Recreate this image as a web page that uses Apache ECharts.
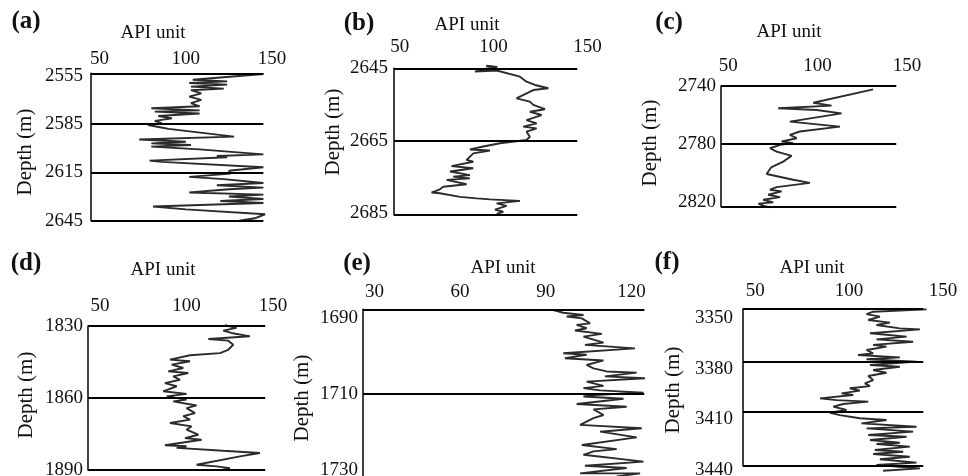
<!DOCTYPE html>
<html>
<head>
<meta charset="utf-8">
<script src="https://cdn.jsdelivr.net/npm/echarts@6/dist/echarts.min.js"></script>
<style>
  html, body { margin: 0; padding: 0; background: #fff; }
  #chart { width: 968px; height: 476px; }
</style>
</head>
<body>
<div id="chart"></div>
<script>
// Gamma-ray logs (API unit) against depth (m) for six wells, (a)–(f).

// (a)
const depthA = [2553.9, 2557.5, 2558.5, 2559.5, 2560.5, 2561.8, 2563, 2564, 2566, 2568, 2570, 2572, 2574, 2575.2, 2576.5, 2577.3, 2578.5, 2580, 2581.5, 2583, 2584.5, 2585.6, 2587, 2588, 2592.8, 2594.6, 2596, 2597, 2598, 2599, 2600.7, 2603.8, 2604.8, 2605.6, 2607.7, 2608.5, 2611.8, 2614, 2615.8, 2617.8, 2619.2, 2621.6, 2623, 2624.5, 2625.5, 2627.5, 2628.8, 2630, 2631.5, 2632.8, 2634, 2636.2, 2638, 2641, 2643.5, 2645];
const gammaA = [145, 104, 124, 102, 124, 103, 122, 103, 109, 102, 109, 103, 108, 80, 108, 82, 108, 84, 92, 82, 86, 78, 85, 90, 128, 73, 100, 80, 103, 80, 108, 145, 118, 124, 79, 86, 145, 125, 126, 102, 122, 145, 118, 145, 125, 102, 145, 125, 145, 120, 145, 81, 100, 146, 140, 131];
const zonesA = [2553.5, 2585, 2615, 2645];
const depthTicksA = [2555, 2585, 2615, 2645];

// (b)
const depthB = [2644.3, 2644.6, 2645.2, 2645.9, 2645.6, 2647.3, 2648.7, 2649.6, 2650.5, 2651.0, 2652.8, 2653.3, 2654.2, 2655.1, 2656.3, 2657.0, 2657.9, 2659.3, 2660.2, 2661.1, 2661.6, 2662.5, 2663.9, 2664.8, 2665.7, 2666.6, 2667.4, 2667.7, 2668.5, 2670.3, 2670.8, 2672.0, 2672.6, 2673.5, 2674.5, 2674.9, 2675.4, 2675.8, 2677.0, 2677.7, 2678.4, 2679.3, 2679.5, 2680.5, 2680.9, 2681.2, 2681.6, 2682.3, 2683.0, 2684.0, 2684.6, 2685.2];
const gammaB = [96, 102, 95, 90.1, 101.6, 114.0, 117.5, 122.0, 129.1, 121.1, 114.0, 112.2, 119.3, 121.1, 127.3, 119.3, 125.5, 117.5, 122.9, 115.8, 122.9, 117.5, 119.3, 117.5, 103.4, 94.5, 87.4, 98.0, 89.2, 85.6, 89.2, 77.6, 89.2, 76.8, 87.4, 78.5, 87.4, 75.0, 85.6, 73.2, 71.4, 67.0, 71.4, 82.1, 91.0, 98.0, 114.0, 101.6, 106.9, 100.7, 105.1, 101.6];
const zonesB = [2645, 2665, 2685.5];
const depthTicksB = [2645, 2665, 2685];

// (c)
const depthC = [2742.3, 2751.5, 2753.5, 2755.3, 2756.5, 2758.8, 2764.5, 2767.9, 2771.3, 2773.6, 2775.9, 2778.2, 2779.3, 2780.5, 2782.8, 2785.1, 2788.0, 2792.0, 2796.0, 2800.5, 2804.5, 2806.6, 2809.5, 2811.3, 2812.5, 2814.8, 2816.4, 2818.2, 2820.0, 2820.9, 2822.3, 2823.5];
const gammaC = [131.1, 97.6, 107.8, 78.0, 99.4, 113.4, 84.5, 112.5, 90.1, 84.5, 88.3, 79.9, 86.4, 79.0, 73.4, 77.1, 85.5, 80.8, 74.0, 71.5, 86.4, 95.7, 77.1, 73.4, 79.9, 72.4, 79.0, 69.6, 75.2, 66.9, 69.6, 73.4];
const zonesC = [2740, 2780, 2823];
const depthTicksC = [2740, 2780, 2820];

// (d)
const depthD = [1829.7, 1830.8, 1831.9, 1832.9, 1834.3, 1835.4, 1836.1, 1837.8, 1839.9, 1841.3, 1842.2, 1844.0, 1844.7, 1846.1, 1847.5, 1848.9, 1849.6, 1851.0, 1852.4, 1853.8, 1855.1, 1857.2, 1858.3, 1859.3, 1860.7, 1861.4, 1863.1, 1864.2, 1866.3, 1867.6, 1869.0, 1870.4, 1871.8, 1873.2, 1875.3, 1876.7, 1877.4, 1879.7, 1880.1, 1880.8, 1882.0, 1882.9, 1884.3, 1887.8, 1888.5, 1889.2, 1889.9];
const gammaD = [122.2, 128.9, 121.2, 126.0, 136.6, 112.6, 124.1, 127.0, 124.1, 119.3, 102.0, 90.4, 102.0, 91.4, 98.1, 89.4, 101.0, 92.3, 96.2, 87.5, 94.3, 86.5, 100.0, 88.5, 100.0, 92.3, 105.8, 100.0, 104.9, 98.1, 102.0, 90.4, 102.9, 100.0, 106.8, 99.1, 108.7, 87.5, 100.0, 94.3, 121.2, 142.4, 130.9, 105.8, 117.4, 125.1, 121.2];
const zonesD = [1830, 1860, 1890];
const depthTicksD = [1830, 1860, 1890];

// (e)
const depthE = [1687.8, 1688.5, 1689.1, 1689.5, 1690.0, 1691.3, 1691.7, 1692.6, 1693.2, 1694.1, 1694.8, 1696.4, 1697.0, 1697.9, 1699.2, 1699.6, 1700.5, 1701.1, 1702.3, 1703.2, 1704.0, 1704.3, 1705.3, 1705.8, 1706.7, 1707.8, 1708.4, 1709.0, 1709.6, 1710.2, 1710.6, 1711.2, 1712.6, 1713.3, 1714.0, 1715.5, 1716.3, 1718.1, 1719.0, 1719.9, 1721.4, 1723.4, 1724.5, 1725.1, 1726.0, 1727.8, 1728.9, 1729.5, 1730.9, 1730.9, 1731.7];
const gammaE = [92.6, 96.1, 103.2, 97.3, 102.6, 105.5, 100.8, 104.3, 100.2, 109.6, 103.2, 110.2, 103.7, 121.2, 96.1, 104.3, 96.7, 110.2, 104.3, 106.7, 111.3, 121.8, 110.7, 124.7, 104.3, 110.2, 103.2, 109.0, 124.2, 106.7, 103.2, 117.2, 100.8, 118.3, 106.7, 110.2, 106.7, 102.0, 123.6, 109.0, 121.8, 102.6, 114.8, 106.7, 103.2, 124.2, 103.7, 118.3, 102.0, 123.0, 114.8];
const zonesE = [1687.6, 1710];
const depthTicksE = [1690, 1710, 1730];

// (f)
const depthF = [3349.0, 3350.4, 3351.8, 3353.3, 3355.3, 3356.9, 3358.3, 3360.3, 3360.9, 3363.2, 3365.2, 3366.8, 3368.2, 3370.1, 3371.1, 3373.1, 3375.1, 3376.1, 3377.5, 3378.6, 3380.0, 3382.0, 3383.0, 3385.0, 3386.6, 3388.5, 3390.9, 3392.9, 3394.5, 3395.8, 3397.2, 3398.8, 3399.8, 3401.8, 3402.8, 3403.7, 3405.1, 3406.7, 3408.7, 3410.3, 3411.7, 3413.6, 3414.6, 3416.6, 3418.6, 3419.6, 3421.5, 3423.5, 3424.5, 3426.5, 3428.1, 3428.8, 3430.4, 3432.4, 3433.4, 3434.8, 3436.4, 3437.9, 3439.9, 3441.3, 3443.3, 3444.7];
const gammaF = [141.2, 112.8, 109.3, 116.4, 110.2, 121.7, 114.6, 127.0, 137.7, 111.1, 130.6, 114.6, 134.1, 112.8, 119.9, 109.3, 112.8, 104.8, 127.0, 109.3, 135.9, 111.1, 127.0, 112.8, 119.9, 110.2, 112.8, 108.4, 111.1, 100.4, 105.7, 96.0, 102.2, 84.5, 93.3, 110.2, 96.9, 91.6, 98.6, 89.8, 95.1, 105.7, 119.9, 106.6, 135.9, 109.3, 134.1, 110.2, 130.6, 111.1, 127.0, 114.6, 132.3, 113.7, 128.8, 112.8, 132.3, 116.4, 135.9, 114.6, 137.7, 118.1];
const zonesF = [3348.8, 3380, 3410, 3441.7];
const depthTicksF = [3350, 3380, 3410, 3440];

// API scale labels
const apiTicks = [50, 100, 150];
const apiTicksE = [30, 60, 90, 120];

const panels = [
  { tag: '(a)', depth: depthA, gamma: gammaA, zones: zonesA, dTicks: depthTicksA, aTicks: apiTicks,
    grid: { left: 91, top: 73.3, width: 181, height: 147.4 }, x: [45, 150], y: [2553.5, 2645], lineEnd: 145,
    xMargin: 5, yMargin: 8, yAlign: 'middle', tagPos: [26, 22], unitPos: [153, 33], depthPos: [25, 152] },
  { tag: '(b)', depth: depthB, gamma: gammaB, zones: zonesB, dTicks: depthTicksB, aTicks: apiTicks,
    grid: { left: 394, top: 68.3, width: 193.6, height: 146.7 }, x: [47, 150], y: [2645, 2685.5], lineEnd: 144.5,
    xMargin: 12, yMargin: 6, yAlign: 'middle', tagPos: [359, 24], unitPos: [467, 25], depthPos: [333, 132] },
  { tag: '(c)', depth: depthC, gamma: gammaC, zones: zonesC, dTicks: depthTicksC, aTicks: apiTicks,
    grid: { left: 721, top: 86, width: 186, height: 120.7 }, x: [46, 150], y: [2740, 2823], lineEnd: 144,
    xMargin: 10, yMargin: 5, yAlign: 'middle', tagPos: [669, 23], unitPos: [789, 32], depthPos: [650, 143] },
  { tag: '(d)', depth: depthD, gamma: gammaD, zones: zonesD, dTicks: depthTicksD, aTicks: apiTicks,
    grid: { left: 88, top: 326, width: 185, height: 144 }, x: [43, 150], y: [1830, 1890], lineEnd: 145.5,
    xMargin: 10, yMargin: 5, yAlign: 'middle', tagPos: [26, 264], unitPos: [163, 270], depthPos: [26, 395] },
  { tag: '(e)', depth: depthE, gamma: gammaE, zones: zonesE, dTicks: depthTicksE, aTicks: apiTicksE,
    grid: { left: 363, top: 309.3, width: 288.5, height: 179.6 }, x: [26, 127], y: [1687.6, 1735], lineEnd: 124.5,
    xMargin: 8, yMargin: 5, yAlign: 'middle', tagPos: [357, 264], unitPos: [503, 268], depthPos: [302, 398] },
  { tag: '(f)', depth: depthF, gamma: gammaF, zones: zonesF, dTicks: depthTicksF, aTicks: apiTicks,
    grid: { left: 743, top: 309, width: 200, height: 156.7 }, x: [43.5, 150], y: [3348.8, 3441.7], lineEnd: 139.5,
    xMargin: 8, yMargin: 10, yAlign: 'top', tagPos: [667, 263], unitPos: [812, 268], depthPos: [673, 390] }
];

const FONT = '"Liberation Serif", "Times New Roman", serif';
const INK = '#111';

const option = {
  backgroundColor: '#fff',
  animation: false,
  // fixed plot boxes: labels may run to the canvas edge, the (e) track runs past it
  grid: panels.map(p => Object.assign({ containLabel: false, outerBoundsMode: 'none' }, p.grid)),
  xAxis: panels.map((p, i) => ({
    type: 'value', gridIndex: i, position: 'top', min: p.x[0], max: p.x[1],
    axisLine: { show: false }, axisTick: { show: false }, splitLine: { show: false },
    axisLabel: { customValues: p.aTicks, margin: p.xMargin, color: INK, fontFamily: FONT, fontSize: 19,
                 formatter: v => String(v) }
  })),
  yAxis: panels.map((p, i) => ({
    type: 'value', gridIndex: i, inverse: true, min: p.y[0], max: p.y[1],
    axisLine: { show: true, lineStyle: { color: '#000', width: 1.5 } },
    axisTick: { show: false }, splitLine: { show: false },
    axisLabel: { customValues: p.dTicks, margin: p.yMargin, color: INK, fontFamily: FONT, fontSize: 19,
                 verticalAlign: p.yAlign, lineHeight: 14, formatter: v => String(v) }
  })),
  series: panels.map((p, i) => ({
    type: 'line', xAxisIndex: i, yAxisIndex: i,
    data: p.depth.map((d, k) => [p.gamma[k], d]),
    showSymbol: false, clip: false, smooth: false,
    lineStyle: { color: '#2b2b2b', width: 1.9 },
    markLine: {
      silent: true, symbol: 'none', animation: false,
      label: { show: false },
      lineStyle: { color: '#000', width: 2, type: 'solid' },
      data: p.zones.map(z => [{ coord: [p.x[0], z] }, { coord: [p.lineEnd, z] }])
    }
  })),
  graphic: panels.flatMap(p => [
    { type: 'text', x: p.tagPos[0], y: p.tagPos[1],
      style: { text: p.tag, fill: INK, font: 'bold 25px ' + FONT, align: 'center', verticalAlign: 'middle' } },
    { type: 'text', x: p.unitPos[0], y: p.unitPos[1],
      style: { text: 'API unit', fill: INK, font: '19px ' + FONT, align: 'center', verticalAlign: 'middle' } },
    { type: 'text', x: p.depthPos[0], y: p.depthPos[1], rotation: Math.PI / 2,
      style: { text: 'Depth (m)', fill: INK, font: '21px ' + FONT, align: 'center', verticalAlign: 'middle' } }
  ])
};

const chart = echarts.init(document.getElementById('chart'));
chart.setOption(option);
</script>
</body>
</html>
